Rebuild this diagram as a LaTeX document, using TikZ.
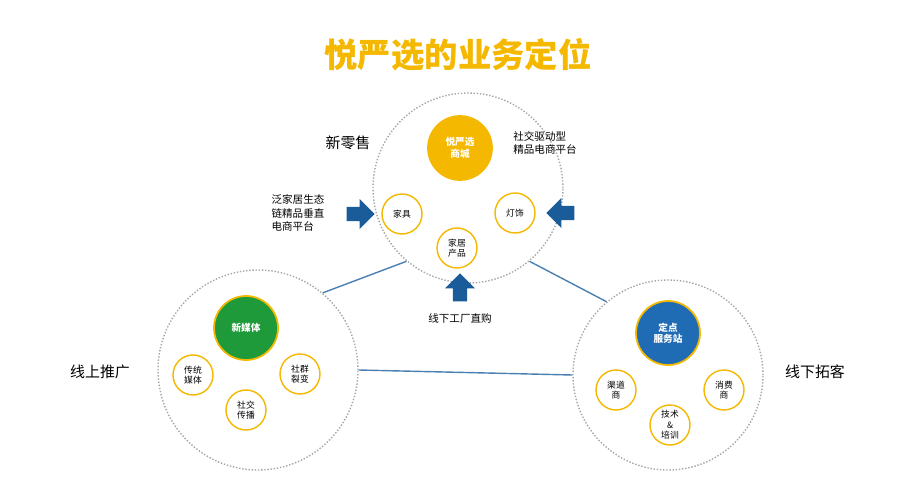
\documentclass[tikz,border=0pt]{standalone}
\usepackage{fontspec}
\setmainfont{Noto Sans CJK SC}
\usetikzlibrary{shapes.arrows}
\definecolor{gold}{HTML}{F5B800}
\definecolor{leafgreen}{HTML}{1E9A3A}
\definecolor{seablue}{HTML}{1F6CB4}
\definecolor{linkblue}{HTML}{4A80B2}
\tikzset{
  bigring/.style={circle, draw=gray!70, densely dotted, thick, minimum size=#1},
  hub/.style={circle, fill=#1, draw=gold, line width=1pt, minimum size=64*0.02cm, text=white, font=\fontsize{5.5}{6.5}\selectfont\bfseries, align=center},
  leaf/.style={circle, draw=gold, line width=0.8pt, fill=white, minimum size=40*0.02cm, inner sep=0pt, font=\fontsize{5}{6}\selectfont, align=center},
  side/.style={font=\fontsize{8.5}{10}\selectfont, align=left},
  note/.style={font=\fontsize{6}{7.5}\selectfont, align=left},
  push/.style={single arrow, fill=seablue!85!black, draw=none, minimum height=28*0.02cm, minimum width=30*0.02cm, single arrow head extend=1.5pt, inner sep=1.2pt, shape border rotate=#1},
  link/.style={draw=linkblue, line width=0.8pt}
}
\begin{document}
\begin{tikzpicture}[x=0.02cm, y=-0.02cm]
\useasboundingbox (0,0) rectangle (916,500);
\node[font=\fontsize{19}{22}\selectfont\bfseries, text=gold] (title) at (458,55) {悦严选的业务定位};
% three rings
\node[bigring=190*0.02cm] (top) at (468,188) {};
\node[bigring=200*0.02cm] (left) at (258,370) {};
\node[bigring=190*0.02cm] (right) at (668,375) {};
\draw[link] (top.230) -- (left.50);
\draw[link] (top.310) -- (right.130);
\draw[link] (left.east) -- (right.west);
% top ring
\node[hub=gold] (mall) at (460,148) {悦严选\\商城};
\node[leaf] (furn) at (402,214) {家具};
\node[leaf] (lamp) at (515,213) {灯饰};
\node[leaf] (home) at (457,248) {家居\\产品};
\node[push=0] (inL) at (357,214) {};
\node[push=180] (inR) at (564,213) {};
\node[push=90] (inB) at (460,291) {};
\node[side] (retail) at (348,143) {新零售};
\node[note] (social) at (545,143) {社交驱动型\\精品电商平台};
\node[note] (pan) at (298,213) {泛家居生态\\链精品垂直\\电商平台};
\node[note] (factory) at (460,318) {线下工厂直购};
% left ring
\node[hub=leafgreen] (media) at (246,328) {新媒体};
\node[leaf] (trad) at (193,375) {传统\\媒体};
\node[leaf] (group) at (300,374) {社群\\裂变};
\node[leaf] (spread) at (246,410) {社交\\传播};
\node[side] (online) at (100,372) {线上推广};
% right ring
\node[hub=seablue] (station) at (668,333) {定点\\服务站};
\node[leaf] (channel) at (616,390) {渠道\\商};
\node[leaf] (buyer) at (724,390) {消费\\商};
\node[leaf] (train) at (670,425) {技术\\\&\\培训};
\node[side] (offline) at (815,372) {线下拓客};
\end{tikzpicture}
\end{document}
